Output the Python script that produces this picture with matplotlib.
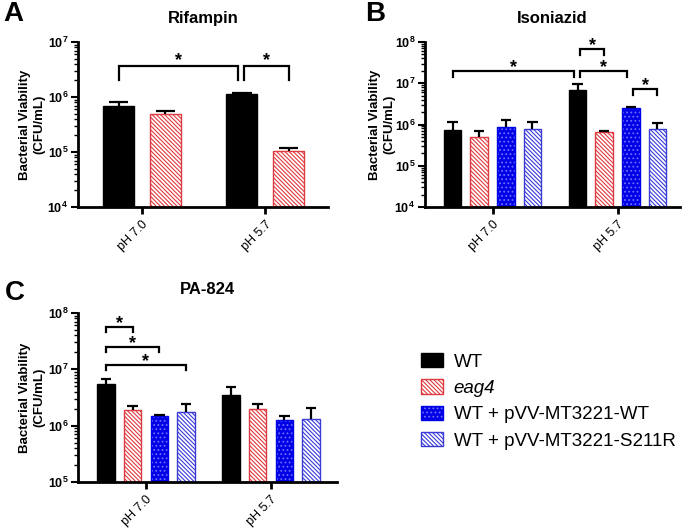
import numpy as np
import matplotlib
matplotlib.use("Agg")
import matplotlib.pyplot as plt
from matplotlib.patches import Patch
from matplotlib.ticker import LogLocator, NullFormatter
from matplotlib.legend_handler import HandlerTuple

plt.rcParams['font.family'] = ['Liberation Sans', 'DejaVu Sans']
plt.rcParams['mathtext.fontset'] = 'custom'
plt.rcParams['mathtext.rm'] = 'Liberation Sans'
plt.rcParams['mathtext.bf'] = 'Liberation Sans:bold'
plt.rcParams['hatch.linewidth'] = 0.8

# Data, rows = strain, columns = pH group
groups = ["pH 7.0", "pH 5.7"]
strains = ["WT", "eag4", "WT + pVV-MT3221-WT", "WT + pVV-MT3221-S211R"]

rif_mean = [[6.9e5, 1.13e6], [4.9e5, 1.05e5]]
rif_sem = [[1.2e5, 0.07e6], [0.7e5, 0.13e5]]

inh_mean = [[7.2e5, 6.8e6], [5.1e5, 6.6e5], [8.6e5, 2.5e6], [7.7e5, 7.6e5]]
inh_sem = [[4.6e5, 3.0e6], [1.8e5, 0.5e5], [4.4e5, 0.2e6], [3.7e5, 3.4e5]]

pa_mean = [[5.6e6, 3.5e6], [1.9e6, 1.95e6], [1.48e6, 1.24e6], [1.75e6, 1.3e6]]
pa_sem = [[1.0e6, 1.4e6], [0.3e6, 0.5e6], [0.04e6, 0.24e6], [0.7e6, 0.8e6]]

# significance brackets: ((group, strain), (group, strain), leg y, top y)
rif_sig = [((0, 0), (1, 0), 2.0e6, 3.6e6), ((1, 0), (1, 1), 2.0e6, 3.6e6)]
inh_sig = [((0, 0), (1, 0), 1.4e7, 2.0e7), ((1, 0), (1, 1), 4.8e7, 6.8e7),
           ((1, 0), (1, 2), 1.4e7, 2.0e7), ((1, 2), (1, 3), 5.2e6, 7.2e6)]
pa_sig = [((0, 0), (0, 1), 4.6e7, 5.6e7), ((0, 0), (0, 2), 2.0e7, 2.5e7),
          ((0, 0), (0, 3), 9.8e6, 1.2e7)]

RED = "#e0393e"
BLUE = "#0000e6"
DOTS = "#6f6fff"
BLUE2 = "#3a3ad8"
HATCH = "\\" * 8


def draw_bar(ax, x, w, top, base, k):
    h = top - base
    if k == 0:
        ax.bar(x, h, w, bottom=base, color="black", edgecolor="black", lw=1, zorder=2)
    elif k == 1:
        ax.bar(x, h, w, bottom=base, facecolor="white", edgecolor=RED,
               hatch=HATCH, lw=1, zorder=2)
    elif k == 2:
        ax.bar(x, h, w, bottom=base, facecolor=BLUE, edgecolor=DOTS,
               hatch="....", lw=0, zorder=2)
        ax.bar(x, h, w, bottom=base, fill=False, edgecolor=BLUE, lw=1, zorder=2)
    else:
        ax.bar(x, h, w, bottom=base, facecolor="white", edgecolor=BLUE2,
               hatch=HATCH, lw=1, zorder=2)


def panel(rect, title, mean, sem, sig, ylo, yhi, xlim, label_x, star_off):
    ax = fig.add_axes(rect)
    n = len(mean)
    if n == 2:
        offs = [-0.19, 0.19]
        w = 0.25
        cap = 0.08
    else:
        offs = [(k - 1.5) * 0.213 for k in range(n)]
        w = 0.14
        cap = 0.042
    base = 10.0 ** ylo
    centers = {}
    for k in range(n):
        for g in range(len(groups)):
            x = g + offs[k]
            centers[(g, k)] = x
            draw_bar(ax, x, w, mean[k][g], base, k)
            top = mean[k][g] + sem[k][g]
            ax.vlines(x, mean[k][g], top, color="black", lw=1.6, zorder=3)
            ax.hlines(top, x - cap, x + cap, color="black", lw=1.6, zorder=3)

    starts = [s[0] for s in sig]
    ends = [s[1] for s in sig]
    for (a, b, yl, yt) in sig:
        x1 = centers[a]
        x2 = centers[b]
        if a in ends:
            x1 += 0.02
        if b in starts:
            x2 -= 0.03
        ax.plot([x1, x1, x2, x2], [yl, yt, yt, yl], color="black", lw=1.6,
                solid_joinstyle="miter", clip_on=False, zorder=3)
        ax.annotate("*", xy=((x1 + x2) / 2, yt), xytext=(0, star_off),
                    textcoords="offset points", ha="center", va="center",
                    fontsize=13, fontweight="bold")

    ax.set_yscale("log")
    ax.set_ylim(10.0 ** ylo, 10.0 ** yhi)
    ax.set_xlim(*xlim)
    exps = list(range(ylo, yhi + 1))
    ax.set_yticks([10.0 ** e for e in exps])
    ax.set_yticklabels([r"$\mathbf{10}^{\mathbf{%d}}$" % e for e in exps])
    ax.yaxis.set_minor_locator(LogLocator(base=10, subs=np.arange(2, 10)))
    ax.yaxis.set_minor_formatter(NullFormatter())
    ax.set_xticks(range(len(groups)))
    ax.set_xticklabels(groups, rotation=45, ha="right", rotation_mode="anchor")
    ax.tick_params(axis="y", which="major", length=5, width=1.5, labelsize=9, pad=2)
    ax.tick_params(axis="y", which="minor", length=3, width=1)
    ax.tick_params(axis="x", length=5, width=2, labelsize=9, pad=3)
    for s in ["top", "right"]:
        ax.spines[s].set_visible(False)
    for s in ["left", "bottom"]:
        ax.spines[s].set_linewidth(2)
    ax.set_ylabel("Bacterial Viability\n(CFU/mL)", fontsize=9.5, fontweight="bold",
                  linespacing=1.25)
    ax.yaxis.set_label_coords(label_x, 0.5)
    ax.set_title(title, fontsize=12, fontweight="bold", pad=14)
    return ax


fig = plt.figure(figsize=(6.85, 5.28), dpi=100)
W, H = 685.0, 528.0

panel([78 / W, 1 - 207 / H, 250 / W, 165 / H], "Rifampin", rif_mean, rif_sem,
      rif_sig, 4, 7, (-0.52, 1.51), -0.13, 4)
panel([425 / W, 1 - 207 / H, 255 / W, 165 / H], "Isoniazid", inh_mean, inh_sem,
      inh_sig, 4, 8, (-0.54, 1.5), -0.115, 2.5)
panel([78 / W, 1 - 482 / H, 259 / W, 169 / H], "PA-824", pa_mean, pa_sem,
      pa_sig, 5, 8, (-0.544, 1.528), -0.127, 2.5)

for letter, x, y in [("A", 3, 14), ("B", 365, 14), ("C", 5, 293)]:
    fig.text(x / W, 1 - y / H, letter, fontsize=20, fontweight="bold", va="center")

# legend
h_wt = Patch(facecolor="black", edgecolor="black")
h_eag = Patch(facecolor="white", edgecolor=RED, hatch=HATCH)
h_pvv = (Patch(facecolor=BLUE, edgecolor=DOTS, hatch="....", lw=0),
         Patch(fill=False, edgecolor=BLUE, lw=1))
h_s211 = Patch(facecolor="white", edgecolor=BLUE2, hatch=HATCH)
leg = fig.legend([h_wt, h_eag, h_pvv, h_s211], strains, loc="upper left",
                 bbox_to_anchor=(421 / W, 1 - 353 / H), frameon=False,
                 fontsize=13.5, handlelength=1.15, handleheight=0.8,
                 handletextpad=0.6, labelspacing=0.46, borderpad=0,
                 borderaxespad=0, handler_map={tuple: HandlerTuple(ndivide=1)})
leg.get_texts()[1].set_style("italic")

fig.savefig("out.png", dpi=100)
